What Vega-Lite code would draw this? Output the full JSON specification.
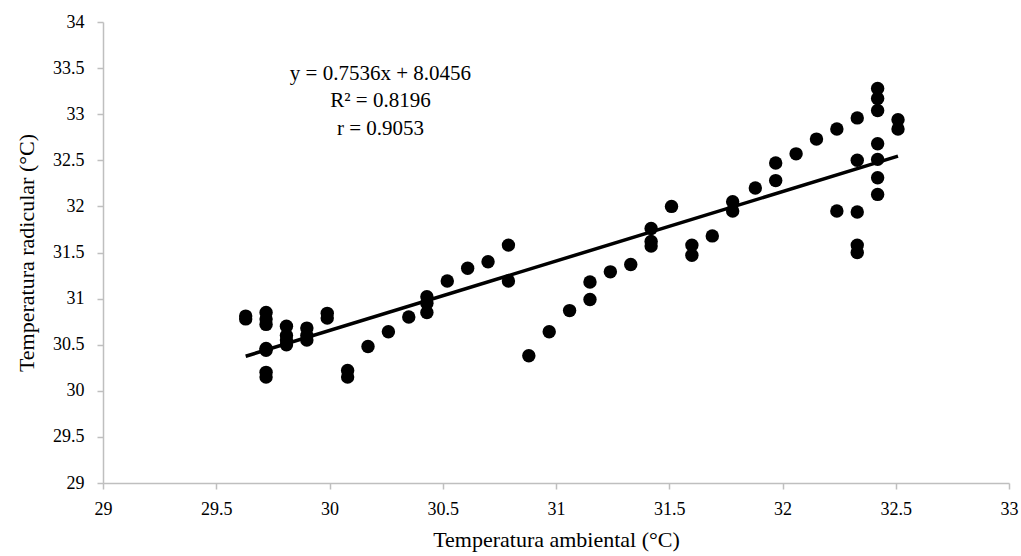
{
  "$schema": "https://vega.github.io/schema/vega-lite/v6.json",
  "autosize": "none",
  "width": 906,
  "height": 461,
  "padding": {"left": 103, "top": 22, "right": 12, "bottom": 73},
  "background": "white",
  "config": {
    "view": {"stroke": null},
    "font": "Liberation Serif",
    "axis": {"labelFont": "Liberation Serif", "titleFont": "Liberation Serif"},
    "style": {"guide-label": {"font": "Liberation Serif"}, "guide-title": {"font": "Liberation Serif"}}
  },
  "datasets": {
    "pts": [
      {"ta": 29.63, "tr": 30.81}, {"ta": 29.63, "tr": 30.78},
      {"ta": 29.72, "tr": 30.85}, {"ta": 29.72, "tr": 30.78}, {"ta": 29.72, "tr": 30.72}, {"ta": 29.72, "tr": 30.46}, {"ta": 29.72, "tr": 30.44}, {"ta": 29.72, "tr": 30.2}, {"ta": 29.72, "tr": 30.15},
      {"ta": 29.81, "tr": 30.7}, {"ta": 29.81, "tr": 30.6}, {"ta": 29.81, "tr": 30.55}, {"ta": 29.81, "tr": 30.5},
      {"ta": 29.9, "tr": 30.68}, {"ta": 29.9, "tr": 30.6}, {"ta": 29.9, "tr": 30.55},
      {"ta": 29.99, "tr": 30.84}, {"ta": 29.99, "tr": 30.79},
      {"ta": 30.08, "tr": 30.22}, {"ta": 30.08, "tr": 30.15},
      {"ta": 30.17, "tr": 30.48},
      {"ta": 30.26, "tr": 30.64},
      {"ta": 30.35, "tr": 30.8},
      {"ta": 30.43, "tr": 31.02}, {"ta": 30.43, "tr": 30.95}, {"ta": 30.43, "tr": 30.85},
      {"ta": 30.52, "tr": 31.19},
      {"ta": 30.61, "tr": 31.33},
      {"ta": 30.7, "tr": 31.4},
      {"ta": 30.79, "tr": 31.58}, {"ta": 30.79, "tr": 31.19},
      {"ta": 30.88, "tr": 30.38},
      {"ta": 30.97, "tr": 30.64},
      {"ta": 31.06, "tr": 30.87},
      {"ta": 31.15, "tr": 31.18}, {"ta": 31.15, "tr": 30.99},
      {"ta": 31.24, "tr": 31.29},
      {"ta": 31.33, "tr": 31.37},
      {"ta": 31.42, "tr": 31.76}, {"ta": 31.42, "tr": 31.62}, {"ta": 31.42, "tr": 31.57},
      {"ta": 31.51, "tr": 32.0},
      {"ta": 31.6, "tr": 31.58}, {"ta": 31.6, "tr": 31.47},
      {"ta": 31.69, "tr": 31.68},
      {"ta": 31.78, "tr": 32.05}, {"ta": 31.78, "tr": 31.95},
      {"ta": 31.88, "tr": 32.2},
      {"ta": 31.97, "tr": 32.47}, {"ta": 31.97, "tr": 32.28},
      {"ta": 32.06, "tr": 32.57},
      {"ta": 32.15, "tr": 32.73},
      {"ta": 32.24, "tr": 32.84}, {"ta": 32.24, "tr": 31.95},
      {"ta": 32.33, "tr": 32.96}, {"ta": 32.33, "tr": 32.5}, {"ta": 32.33, "tr": 31.94}, {"ta": 32.33, "tr": 31.58}, {"ta": 32.33, "tr": 31.5},
      {"ta": 32.42, "tr": 33.28}, {"ta": 32.42, "tr": 33.17}, {"ta": 32.42, "tr": 33.04}, {"ta": 32.42, "tr": 32.68}, {"ta": 32.42, "tr": 32.51}, {"ta": 32.42, "tr": 32.31}, {"ta": 32.42, "tr": 32.13},
      {"ta": 32.51, "tr": 32.94}, {"ta": 32.51, "tr": 32.84}
    ],
    "trend": [
      {"ta": 29.63, "tr": 30.375},
      {"ta": 32.51, "tr": 32.545}
    ],
    "eq": [
      {"ta": 30.225, "tr": 33.44, "label": "y = 0.7536x + 8.0456"},
      {"ta": 30.225, "tr": 33.14, "label": "R² = 0.8196"},
      {"ta": 30.225, "tr": 32.84, "label": "r = 0.9053"}
    ]
  },
  "layer": [
    {
      "data": {"name": "pts"},
      "mark": {"type": "circle", "size": 180, "color": "black", "opacity": 1},
      "encoding": {
        "x": {
          "field": "ta", "type": "quantitative",
          "scale": {"domain": [29, 33], "zero": false, "nice": false},
          "axis": {
            "title": "Temperatura ambiental (°C)",
            "values": [29, 29.5, 30, 30.5, 31, 31.5, 32, 32.5, 33],
            "format": "~g",
            "grid": false, "domainColor": "#bfbfbf", "domainWidth": 1.5, "tickColor": "#bfbfbf", "tickWidth": 1.5, "tickSize": 6,
            "labelFont": "Liberation Serif", "labelFontSize": 18, "labelColor": "black", "labelPadding": 11,
            "titleFont": "Liberation Serif", "titleFontSize": 22, "titleFontWeight": "normal", "titleColor": "black", "titlePadding": 11,
            "labelFlush": false
          }
        },
        "y": {
          "field": "tr", "type": "quantitative",
          "scale": {"domain": [29, 34], "zero": false, "nice": false},
          "axis": {
            "title": "Temperatura radicular (°C)",
            "values": [29, 29.5, 30, 30.5, 31, 31.5, 32, 32.5, 33, 33.5, 34],
            "format": "~g",
            "grid": false, "domainColor": "#bfbfbf", "domainWidth": 1.5, "tickColor": "#bfbfbf", "tickWidth": 1.5, "tickSize": 6,
            "labelFont": "Liberation Serif", "labelFontSize": 18, "labelColor": "black", "labelPadding": 13,
            "titleFont": "Liberation Serif", "titleFontSize": 22, "titleFontWeight": "normal", "titleColor": "black", "titlePadding": 14,
            "labelFlush": false
          }
        }
      }
    },
    {
      "data": {"name": "trend"},
      "mark": {"type": "line", "color": "black", "strokeWidth": 3.5},
      "encoding": {
        "x": {"field": "ta", "type": "quantitative"},
        "y": {"field": "tr", "type": "quantitative"}
      }
    },
    {
      "data": {"name": "eq"},
      "mark": {"type": "text", "font": "Liberation Serif", "fontSize": 21, "color": "black", "align": "center", "baseline": "middle"},
      "encoding": {
        "x": {"field": "ta", "type": "quantitative"},
        "y": {"field": "tr", "type": "quantitative"},
        "text": {"field": "label"}
      }
    }
  ]
}
